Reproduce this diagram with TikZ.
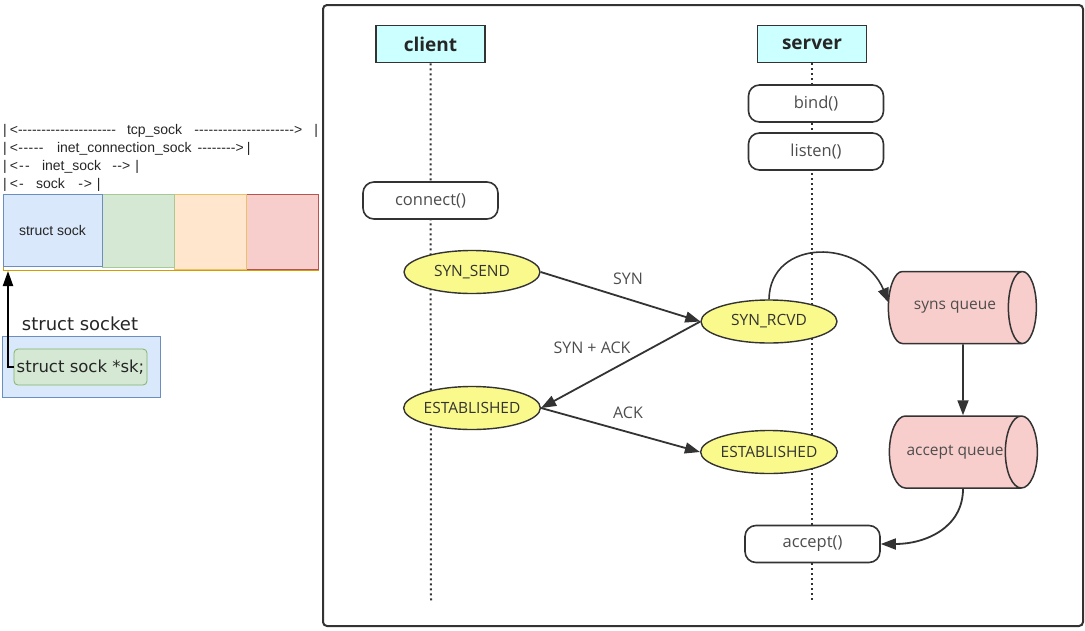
\documentclass[tikz,border=0pt]{standalone}
\usepackage{fontspec}
\setmainfont{Open Sans}
\newfontfamily\arialfont{Liberation Sans}
\newfontfamily\handfont{DejaVu Sans}
\usetikzlibrary{arrows.meta,shapes.geometric}

\definecolor{ink}{HTML}{333333}
\definecolor{txt}{HTML}{4D4D4D}
\definecolor{hdrfill}{HTML}{CCFFFF}
\definecolor{statefill}{HTML}{FAFA8C}
\definecolor{queuefill}{HTML}{F8CECC}
\definecolor{bluefill}{HTML}{DAE8FC}
\definecolor{blueline}{HTML}{6C8EBF}
\definecolor{greenfill}{HTML}{D5E8D4}
\definecolor{greenline}{HTML}{82B366}
\definecolor{orangefill}{HTML}{FFE6CC}
\definecolor{orangeline}{HTML}{D79B00}
\definecolor{redfill}{HTML}{F8CECC}
\definecolor{redline}{HTML}{B85450}

% a run of hyphens filling a given width
\newcommand\dashfill[1]{\hbox to #1{\xleaders\hbox{-}\hfill}}
\newcommand\px[1]{\fontsize{#1}{#1}\selectfont}

\begin{document}
\begin{tikzpicture}[x=1pt, y=-1pt,
  hdr/.style={draw=ink, line width=1.6pt, fill=hdrfill, minimum width=109pt,
    minimum height=37pt, inner sep=0pt, font=\px{19}\bfseries, text=black!85},
  func/.style={draw=ink, line width=1.6pt, fill=white, rounded corners=11pt,
    minimum width=135pt, minimum height=37pt, inner sep=0pt, font=\px{16.5}, text=txt},
  state/.style={ellipse, draw=ink, line width=1.4pt, fill=statefill,
    minimum width=136pt, minimum height=43pt, inner sep=0pt, font=\px{15.5}, text=ink},
  queue/.style={cylinder, draw=ink, line width=1.5pt, cylinder uses custom fill,
    cylinder body fill=queuefill, cylinder end fill=queuefill,
    minimum height=148pt, minimum width=72pt, shape aspect=2.3, inner sep=0pt,
    font=\px{15.5}, text=txt},
  lifeline/.style={line width=2pt, dash pattern=on 2pt off 3pt, ink},
  msg/.style={line width=1.8pt, ink, -{Triangle[length=15pt,width=11pt]}},
  lbl/.style={font=\px{16}, text=txt},
  rowtext/.style={anchor=west, inner sep=0pt, font=\arialfont\px{14}, text=black!85},
  cell/.style={inner sep=0pt, line width=0.8pt}]
\useasboundingbox (0,0) rectangle (1085,630);

% ---------- left: socket structures ----------
\node[rowtext] (r1) at (3,131) {|\hspace{3pt}<\dashfill{98pt}\hspace{11pt}tcp\_sock\hspace{12pt}\dashfill{100pt}>\hspace{12pt}|};
\node[rowtext] (r2) at (3,149) {|\hspace{3pt}<\dashfill{26pt}\hspace{13pt}inet\_connection\_sock\hspace{6pt}\dashfill{38pt}>\hspace{3pt}|};
\node[rowtext] (r3) at (3,167) {|\hspace{3pt}<\dashfill{13pt}\hspace{11pt}inet\_sock\hspace{11pt}\dashfill{10pt}>\hspace{5pt}|};
\node[rowtext] (r4) at (3,185) {|\hspace{3pt}<\dashfill{7pt}\hspace{11pt}sock\hspace{13pt}\dashfill{6pt}>\hspace{5pt}|};

\node[cell, draw=orangeline, minimum width=315pt, minimum height=76pt] (tcp) at (160.5,232) {};
\node[cell, draw=redline, fill=redfill, minimum width=72pt, minimum height=75pt] (c4) at (282,232) {};
\node[cell, draw=orangeline!60, fill=orangefill, minimum width=72pt, minimum height=75pt] (c3) at (210,232) {};
\node[cell, draw=greenline!70, fill=greenfill, minimum width=72pt, minimum height=73pt] (c2) at (138,231) {};
\node[cell, draw=blueline, fill=bluefill, minimum width=99pt, minimum height=72pt,
  font=\arialfont\px{14}, text=black!85] (c1) at (52.5,230) {struct sock};
\draw[orangeline, line width=1.5pt] (tcp.south west) -- (tcp.south east);

\node[cell, draw=blueline, fill=bluefill, minimum width=158pt, minimum height=61pt] (sockbox) at (81,367) {};
\node[font=\handfont\px{18}, text=black!85] (socklbl) at (80,324) {struct socket};
\node[draw=greenline, fill=greenfill, rounded corners=4pt, line width=0.8pt, minimum width=133pt,
  minimum height=36pt, inner sep=0pt, font=\handfont\px{16.5}, text=black!85] (sk) at (80.5,367) {struct sock *sk;};
\coordinate (tcpbottom) at (8,271);
\draw[line width=2pt, black, -{Triangle[length=15pt,width=10pt]}] (sk.west) -| (tcpbottom);

% ---------- right: handshake frame ----------
\draw[ink, line width=2pt, rounded corners=4pt] (323,5) rectangle (1083,626);

\node[hdr] (client) at (430.5,44) {client};
\node[hdr] (server) at (812,44) {server};
\coordinate (clientend) at (431,603);
\coordinate (serverend) at (812,603);
\draw[lifeline] (client.south) -- (clientend);
\draw[lifeline] (server.south) -- (serverend);

\node[func] (bind) at (816,103.5) {bind()};
\node[func] (listen) at (816,151.5) {listen()};
\node[func] (connect) at (430.5,200.5) {connect()};
\node[func] (accept) at (812.5,544) {accept()};

\node[state] (synsend) at (472,272) {SYN\_SEND};
\node[state] (synrcvd) at (769,321.5) {SYN\_RCVD};
\node[state] (estc) at (472,408) {ESTABLISHED};
\node[state] (ests) at (769,452) {ESTABLISHED};

% queues: the shape centre sits left of the visible end cap
\node[queue] (synsq) at (955,307.5) {syns queue};
\node[queue] (acceptq) at (955,452) {accept queue};
\coordinate (synsqin) at (889,303);

\draw[msg] (synsend.east) -- (synrcvd.west);
\draw[msg] (synrcvd.west) -- (estc.east);
\draw[msg] (estc.east) -- (ests.west);
\draw[msg, line width=1.6pt] (synrcvd.north) .. controls (770,238) and (862,238) .. (synsqin);
\draw[msg] ([xshift=8pt]synsq.south) -- ([xshift=8pt]acceptq.north);
\draw[msg] ([xshift=8pt]acceptq.south) .. controls (963,528) and (925,544) .. (accept.east);

\node[lbl] (lsyn) at (628,279) {SYN};
\node[lbl] (lsynack) at (592,348) {SYN + ACK};
\node[lbl] (lack) at (628,413) {ACK};
\end{tikzpicture}
\end{document}
